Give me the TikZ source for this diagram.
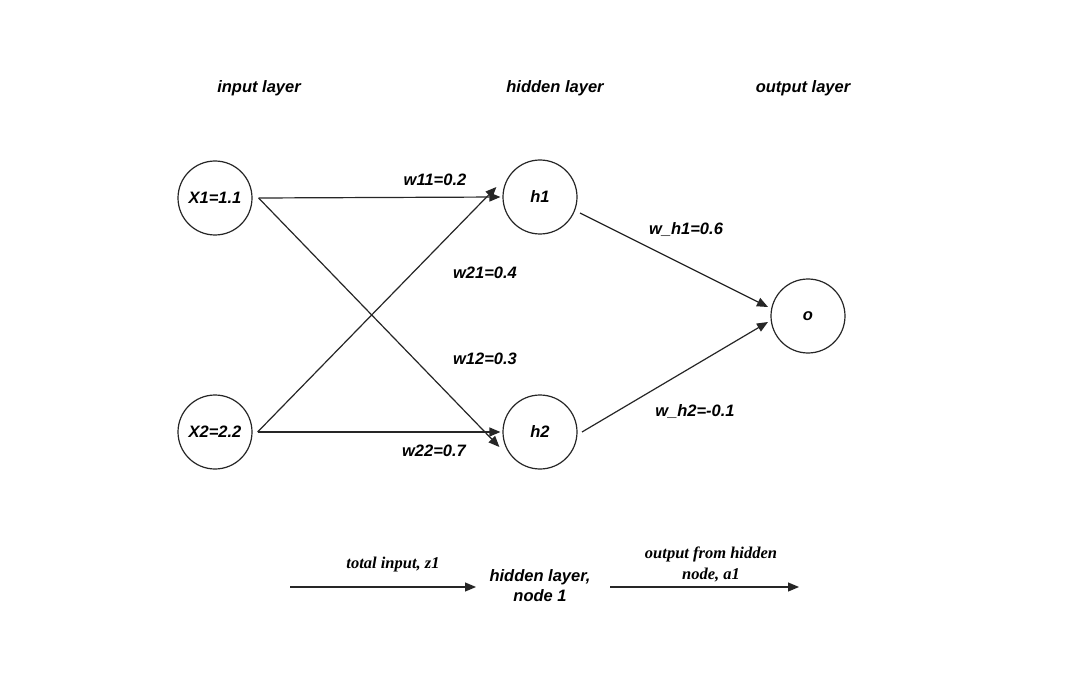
\documentclass[tikz,border=0pt]{standalone}
\usepackage{fontspec}
\setmainfont{Liberation Serif}
\setsansfont{Liberation Sans}
\usetikzlibrary{arrows.meta}
\begin{document}
\begin{tikzpicture}[x=1pt,y=-1pt,
  neuron/.style={circle,draw=black!85,line width=1.2pt,minimum size=74pt,inner sep=0pt,
    font=\sffamily\bfseries\itshape\fontsize{16.5}{20}\selectfont},
  lbl/.style={font=\sffamily\bfseries\itshape\fontsize{16.5}{20}\selectfont,inner sep=0pt},
  ttl/.style={font=\sffamily\bfseries\itshape\fontsize{16.5}{20}\selectfont,inner sep=0pt},
  serif/.style={font=\rmfamily\bfseries\itshape\fontsize{16.5}{21}\selectfont,inner sep=0pt,align=center},
  conn/.style={line width=1.2pt,draw=black!85,-{Triangle[length=11pt,width=9pt]}}]
\useasboundingbox (0,0) rectangle (1071,679);
\fill[white] (0,0) rectangle (1071,679);
% layer titles
\node[ttl] (t1) at (259,88) {input layer};
\node[ttl] (t2) at (555,88) {hidden layer};
\node[ttl] (t3) at (803,88) {output layer};
% neurons
\node[neuron] (x1) at (215,198) {X1=1.1};
\node[neuron] (x2) at (215,432) {X2=2.2};
\node[neuron] (h1) at (540,197) {h1};
\node[neuron] (h2) at (540,432) {h2};
\node[neuron] (o) at (808,316) {o};
% connector end points
\coordinate (x1a) at ([xshift=6pt]x1.east);
\coordinate (x2a) at ([xshift=5pt]x2.east);
\coordinate (h1a) at ([xshift=-2pt]h1.west);
\coordinate (h1b) at ([xshift=-6pt,yshift=10pt]h1.west);
\coordinate (h2a) at ([xshift=-3pt,yshift=-15pt]h2.west);
\coordinate (h2b) at ([xshift=-2pt]h2.west);
\coordinate (h1o) at (580,213);
\coordinate (h2o) at (582,432);
\coordinate (oa) at (768,307);
\coordinate (ob) at (768,322);
\draw[conn] (x1a) -- (h1a);
\draw[conn] (x1a) -- (h2a);
\draw[conn] (x2a) -- (h1b);
\draw[conn] (x2a) -- (h2b);
\draw[conn] (h1o) -- (oa);
\draw[conn] (h2o) -- (ob);
% weight labels
\node[lbl] (w11) at (435,180) {w11=0.2};
\node[lbl] (w21) at (485,273) {w21=0.4};
\node[lbl] (w12) at (485,359) {w12=0.3};
\node[lbl] (w22) at (434,451) {w22=0.7};
\node[lbl] (wh1) at (686,230) {w\_h1=0.6};
\node[lbl] (wh2) at (695,412) {w\_h2=-0.1};
% bottom legend
\node[lbl,align=center] (hl) at (540,586) {hidden layer,\\node 1};
\coordinate (l1s) at (290,587);
\coordinate (l1e) at (476,587);
\coordinate (l2s) at (610,587);
\coordinate (l2e) at (799,587);
\draw[conn] (l1s) -- (l1e);
\draw[conn] (l2s) -- (l2e);
\node[serif] (ti) at (393,565) {total input, z1};
\node[serif] (oh) at (711,564) {output from hidden\\node, a1};
\end{tikzpicture}
\end{document}
